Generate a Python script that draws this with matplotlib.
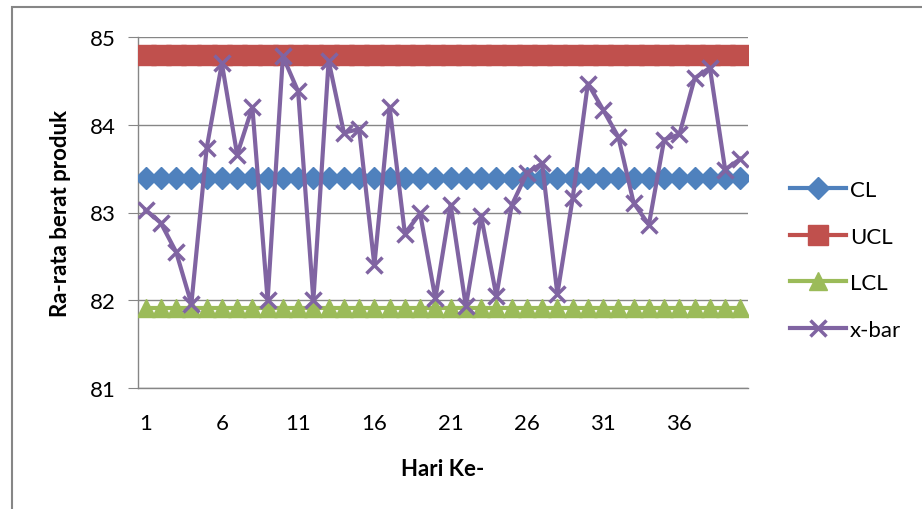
import numpy as np
import matplotlib
matplotlib.use("Agg")
import matplotlib.pyplot as plt
from matplotlib.patches import Rectangle

plt.rcParams["font.family"] = ["Lato", "DejaVu Sans"]

# data
days = list(range(1, 41))
cl_value = 83.39
ucl_value = 84.80
lcl_value = 81.91
xbar = [83.03, 82.88, 82.55, 81.96, 83.73, 84.70, 83.66, 84.20, 82.00, 84.78,
        84.38, 82.00, 84.73, 83.91, 83.95, 82.40, 84.20, 82.76, 82.99, 82.02,
        83.09, 81.93, 82.96, 82.05, 83.08, 83.45, 83.56, 82.07, 83.16, 84.47,
        84.17, 83.86, 83.11, 82.86, 83.83, 83.89, 84.53, 84.65, 83.49, 83.61]
cl = [cl_value] * len(days)
ucl = [ucl_value] * len(days)
lcl = [lcl_value] * len(days)
x_ticks = [1, 6, 11, 16, 21, 26, 31, 36]
y_ticks = [81, 82, 83, 84, 85]

fig = plt.figure(figsize=(9.22, 5.10), dpi=100)
ax = fig.add_axes([138 / 922, 1 - 389 / 510, 610 / 922, 351 / 510])

ax.plot(days, cl, color="#4F81BD", lw=3, marker="D", ms=11, label="CL", zorder=3)
ax.plot(days, ucl, color="#C0504D", lw=3, marker="s", ms=14, label="UCL", zorder=3)
ax.plot(days, lcl, color="#9BBB59", lw=3, marker="^", ms=13, label="LCL", zorder=3)
ax.plot(days, xbar, color="#8064A2", lw=3, marker="x", ms=12, mew=2.5,
        label="x-bar", zorder=4)

ax.set_xlim(0.5, 40.5)
ax.set_ylim(81, 85)
ax.set_yticks(y_ticks)
ax.set_xticks(x_ticks)
ax.grid(axis="y", color="#868686", lw=1)
ax.set_axisbelow(True)

for s in ["top", "right"]:
    ax.spines[s].set_visible(False)
for s in ["left", "bottom"]:
    ax.spines[s].set_color("#868686")
    ax.spines[s].set_linewidth(1)

ax.tick_params(axis="y", length=7, color="#868686", pad=9, labelsize=16)
ax.tick_params(axis="x", length=0, pad=18, labelsize=16)

ax.set_ylabel("Ra-rata berat produk", fontsize=16, fontweight="bold")
ax.yaxis.set_label_coords(-0.11, 0.5)
ax.set_xlabel("Hari Ke-", fontsize=16, fontweight="bold")
ax.xaxis.set_label_coords(0.5, -0.20)

ax.legend(loc="center left", bbox_to_anchor=(1.069, 0.365), frameon=False,
          borderaxespad=0, borderpad=0, fontsize=16, handlelength=2.5,
          handletextpad=0.2, labelspacing=1.2)

# outer chart border
fig.patches.append(Rectangle((12 / 922, -0.2), 1.2, 1.2 - 8 / 510,
                             transform=fig.transFigure, fill=False,
                             edgecolor="#868686", lw=1.5))

fig.savefig("out.png", dpi=100)
